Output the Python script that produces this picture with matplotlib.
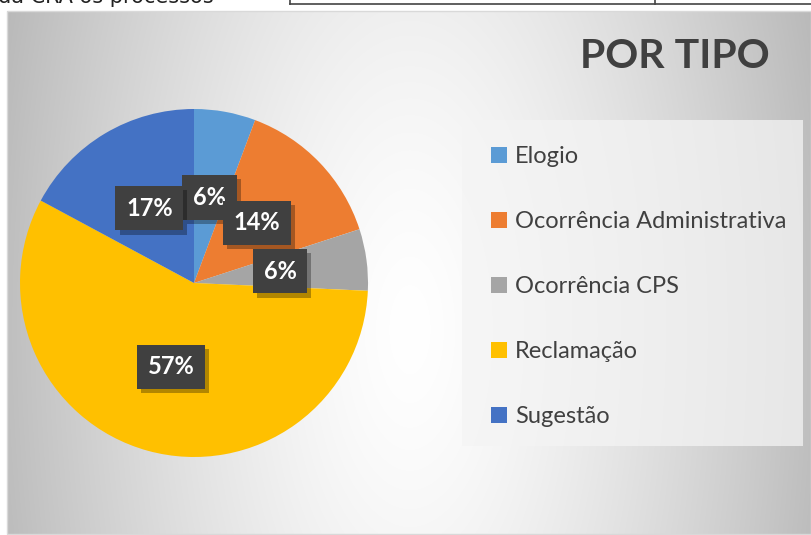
import numpy as np
import matplotlib
matplotlib.use("Agg")
import matplotlib.pyplot as plt
import matplotlib.patches as patches
import matplotlib.patheffects as pe

# data
categorias = ['Elogio', 'Ocorrência Administrativa', 'Ocorrência CPS', 'Reclamação', 'Sugestão']
quantidades = [2, 5, 2, 20, 6]
cores = ['#5B9BD5', '#ED7D31', '#A5A5A5', '#FFC000', '#4472C4']
titulo = 'POR TIPO'

W, H = 811, 535
fig = plt.figure(figsize=(W / 100, H / 100), dpi=100)
fig.patch.set_facecolor('white')

# background layer in pixel coordinates
bg = fig.add_axes([0, 0, 1, 1])
bg.set_xlim(0, W)
bg.set_ylim(H, 0)
bg.axis('off')

# chart area with radial gradient (mostly horizontal falloff)
x0, y0, x1, y1 = 7, 11, 811, 534
xs = np.linspace(x0, x1, 400)
ys = np.linspace(y0, y1, 300)
gx, gy = np.meshgrid(xs, ys)
cx, cy = 410, 330
dx = (gx - cx) / (x1 - x0) * 2
dy = (gy - cy) / (y1 - y0) * 2
d = np.sqrt(dx ** 2 + (0.3 * dy) ** 2)
val = 1.0 - 0.25 * d ** 1.4
img = np.dstack([val, val, val])
bg.imshow(img, extent=[x0, x1, y1, y0], aspect='auto', interpolation='bilinear', zorder=0)
bg.add_patch(patches.Rectangle((x0, y0), x1 - x0, y1 - y0, fill=False,
                               edgecolor='#d9d9d9', linewidth=1, zorder=1))

# leftover from the page above the chart (cut off, as in the source)
bg.text(-2, 7, 'da CRA os processos', fontsize=15, family='DejaVu Sans',
        color='#222222', va='bottom', ha='left', zorder=2)
bg.plot([290, 811], [4, 4], color='#444444', lw=1.2, zorder=2)
bg.plot([290, 290], [0, 4], color='#444444', lw=1.2, zorder=2)
bg.plot([655, 655], [0, 4], color='#444444', lw=1.2, zorder=2)

# legend box
bg.add_patch(patches.Rectangle((462, 120), 341, 326, facecolor='#f4f4f4',
                               edgecolor='none', alpha=0.75, zorder=1))

# title
bg.text(675, 57, titulo, fontsize=29.5, fontweight='bold', color='#404040',
        family='Lato', ha='center', va='center', zorder=2)

# pie
pcx, pcy, r = 194, 283, 174
ax = fig.add_axes([(pcx - r) / W, (H - pcy - r) / H, 2 * r / W, 2 * r / H])
ax.set_facecolor('none')
wedges, _, autotexts = ax.pie(quantidades, colors=cores, startangle=90, counterclock=False,
                              autopct=lambda p: f'{p:.0f}%', pctdistance=0.5,
                              wedgeprops=dict(linewidth=0),
                              textprops=dict(color='white', fontsize=17, fontweight='bold',
                                             family='Lato'))
ax.set_xlim(-1, 1)
ax.set_ylim(-1, 1)
ax.set_aspect('equal')
ax.axis('off')

for t in autotexts:
    t.set_ha('center')
    t.set_va('center')
    t.set_zorder(5)
    t.set_bbox(dict(boxstyle='square,pad=0.45', facecolor='#404040', edgecolor='none'))
    # soft shadow behind the label box
    t.get_bbox_patch().set_path_effects([
        pe.SimplePatchShadow(offset=(3, -3), shadow_rgbFace='black', alpha=0.3),
        pe.Normal()])

# legend
leg = fig.legend(wedges, categorias, loc='upper left',
                 bbox_to_anchor=(470 / W, 1 - 125 / H), frameon=False,
                 prop=dict(family='Lato', size=17), labelcolor='#404040',
                 handlelength=0.65, handleheight=0.65, handletextpad=0.35,
                 labelspacing=1.86)

fig.savefig('out.png', dpi=100)
